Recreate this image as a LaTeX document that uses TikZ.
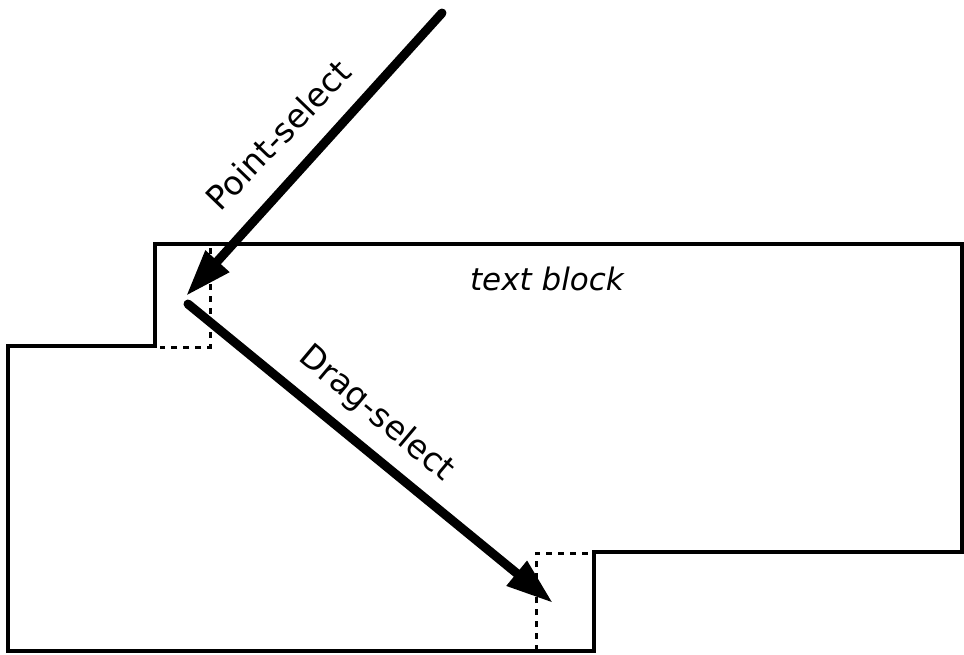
\documentclass[tikz,border=0pt]{standalone}
\usepackage{fontspec}
\setmainfont{DejaVu Sans}
\usetikzlibrary{arrows.meta}
\begin{document}
\begin{tikzpicture}[x=1pt,y=-1pt,
  outline/.style={line width=3.4pt,line join=miter},
  guide/.style={line width=3pt,dash pattern=on 6pt off 6pt},
  selarrow/.style={line width=9pt,line cap=round,-{Triangle[length=47pt,width=30pt]}},
  lbl/.style={font=\fontsize{33}{36}\selectfont,inner sep=0pt}]
\useasboundingbox (0,0) rectangle (964,654);
% outline of the text block
\draw[outline] (155,244) -- (962,244) -- (962,552) -- (594,552) -- (594,651)
  -- (8,651) -- (8,346) -- (155,346) -- cycle;
% dotted guides
\draw[guide] (210,248) -- (210,347) -- (160,347);
\draw[guide] (536,651) -- (536,553) -- (590,553);
% named points
\coordinate (ps) at (442,13);
\coordinate (tip1) at (186,296);
\coordinate (ds) at (188,304);
\coordinate (tip2) at (553,603);
% arrows
\draw[selarrow] (ps) -- (tip1);
\draw[selarrow] (ds) -- (tip2);
% labels
\node[lbl,rotate=46] (plabel) at (278,135) {Point-select};
\node[lbl,rotate=-40] (dlabel) at (376,414) {Drag-select};
\node[font=\fontsize{31}{36}\selectfont\itshape,inner sep=0pt] (tb) at (547,279) {text block};
\end{tikzpicture}
\end{document}
